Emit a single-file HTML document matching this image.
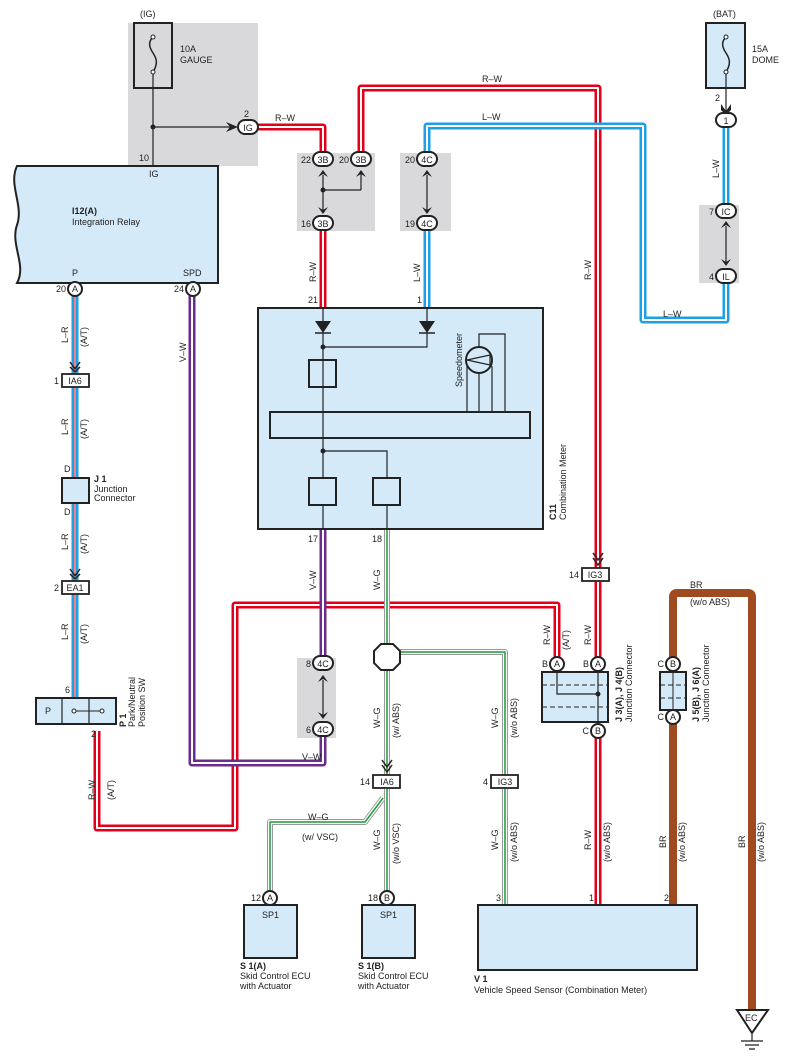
<!DOCTYPE html>
<html><head><meta charset="utf-8"><style>
html,body{margin:0;padding:0;background:#fff;}
svg{display:block;font-family:"Liberation Sans",sans-serif;}
text{font-size:9px;fill:#222;}
.b{font-weight:bold;}
</style></head><body>
<svg width="788" height="1063" viewBox="0 0 788 1063" xmlns="http://www.w3.org/2000/svg">
<defs>
<path id="r1" d="M258,127 H323 V152"/>
<path id="r1b" d="M323,230 V308"/>
<path id="r2" d="M361,152 V88 H598 V568"/>
<path id="r3" d="M598,582 V657 M598,738 V905"/>
<path id="r4" d="M97,731 V828 H235 V605 H557 V657"/>
<path id="bl1" d="M427,152 V126 H643 V320 H726 V283"/>
<path id="bl2" d="M427,230 V308"/>
<path id="bl3" d="M726,127 V205"/>
<path id="lr" d="M75,296 V374 M75,387 V478 M75,503 V581 M75,594 V698"/>
<path id="pu" d="M323,529 V656 M323,736 V763 H192 V296"/>
<path id="gr" d="M387,529 V644 M387,670 V775 M387,789 V891 M383,798 L365,822 H270 V891 M400,652 H505 V775 M505,789 V905"/>
</defs>
<!-- gray boxes -->
<rect x="128" y="23" width="130" height="143" fill="#d9d9db"/>
<rect x="297" y="153" width="78" height="78" fill="#d9d9db"/>
<rect x="400" y="153" width="51" height="78" fill="#d9d9db"/>
<rect x="699" y="205" width="40" height="78" fill="#d9d9db"/>
<rect x="297" y="658" width="39" height="80" fill="#d9d9db"/>

<!-- fuses -->
<rect x="134" y="23" width="38" height="65" fill="none" stroke="#222" stroke-width="2"/>
<path d="M153,37 C148,42 149,47 153,53 C157,59 158,64 153,72" fill="none" stroke="#222" stroke-width="1.5"/>
<circle cx="153" cy="37" r="2" fill="#fff" stroke="#222"/><circle cx="153" cy="72" r="2" fill="#fff" stroke="#222"/>
<text x="140" y="17">(IG)</text><text x="180" y="52">10A</text><text x="180" y="63">GAUGE</text>
<line x1="153" y1="74" x2="153" y2="166" stroke="#222" stroke-width="1.2"/>
<line x1="153" y1="127" x2="232" y2="127" stroke="#222" stroke-width="1.2"/>
<circle cx="153" cy="127" r="2.5" fill="#222"/>
<path d="M226,122 L238,127 L226,132 L230,127Z" fill="#222"/>
<text x="244" y="117">2</text><text x="139" y="161">10</text>

<rect x="706" y="23" width="39" height="65" fill="#d4eaf8" stroke="#222" stroke-width="2"/>
<path d="M726,37 C721,42 722,47 726,53 C730,59 731,64 726,72" fill="none" stroke="#222" stroke-width="1.5"/>
<circle cx="726" cy="37" r="2" fill="#fff" stroke="#222"/><circle cx="726" cy="72" r="2" fill="#fff" stroke="#222"/>
<text x="713" y="17">(BAT)</text><text x="752" y="52">15A</text><text x="752" y="63">DOME</text>
<line x1="726" y1="74" x2="726" y2="112" stroke="#222" stroke-width="1.2"/>
<path d="M721,104 L726,111 L731,104 L731,110 L726,115 L721,110Z" fill="#222"/>
<text x="715" y="101">2</text>

<!-- wires -->
<g fill="none" stroke-linejoin="round">
<g stroke="#e3001b" stroke-width="7"><use href="#r1"/><use href="#r1b"/><use href="#r2"/><use href="#r3"/><use href="#r4"/></g>
<g stroke="#fff" stroke-width="2"><use href="#r1"/><use href="#r1b"/><use href="#r2"/><use href="#r3"/><use href="#r4"/></g>
<g stroke="#1ea0e6" stroke-width="7"><use href="#bl1"/><use href="#bl2"/><use href="#bl3"/><use href="#lr"/></g>
<g stroke="#fff" stroke-width="2"><use href="#bl1"/><use href="#bl2"/><use href="#bl3"/><use href="#lr"/></g>
<g stroke="#e3001b" stroke-width="1"><use href="#lr"/></g>
<g stroke="#6a2c8e" stroke-width="7"><use href="#pu"/></g>
<g stroke="#fff" stroke-width="2"><use href="#pu"/></g>
<g stroke="#999" stroke-width="6"><use href="#gr"/></g>
<g stroke="#fff" stroke-width="4"><use href="#gr"/></g>
<g stroke="#1a9a3a" stroke-width="1.5"><use href="#gr"/></g>
<path d="M673,724 V905 M673,657 V597 Q673,593 677,593 H748 Q752,593 752,597 V1010" stroke="#a04a20" stroke-width="8"/>
</g>

<!-- Integration relay -->
<path d="M17,166 H218 V283 H17 C27,265 10,245 17,225 C24,205 8,185 17,166Z" fill="#d4eaf8" stroke="#222" stroke-width="2"/>
<text x="72" y="214" class="b">I12(A)</text><text x="72" y="225">Integration Relay</text>
<text x="149" y="177">IG</text><text x="72" y="276">P</text><text x="183" y="276">SPD</text>

<!-- connectors ovals -->
<g fill="#fff" stroke="#222" stroke-width="2">
<rect x="238" y="120" width="20" height="14" rx="7"/>
<rect x="313" y="152" width="20" height="14" rx="7"/><rect x="351" y="152" width="20" height="14" rx="7"/>
<rect x="313" y="216" width="20" height="14" rx="7"/>
<rect x="417" y="152" width="20" height="14" rx="7"/><rect x="417" y="216" width="20" height="14" rx="7"/>
<rect x="716" y="113" width="20" height="14" rx="7"/>
<rect x="716" y="204" width="20" height="14" rx="7"/><rect x="716" y="269" width="20" height="14" rx="7"/>
<rect x="313" y="656" width="20" height="14" rx="7"/><rect x="313" y="722" width="20" height="14" rx="7"/>
<circle cx="75" cy="289" r="7"/><circle cx="193" cy="289" r="7"/>
<circle cx="557" cy="664" r="7"/><circle cx="598" cy="664" r="7"/><circle cx="598" cy="731" r="7"/>
<circle cx="673" cy="664" r="7"/><circle cx="673" cy="717" r="7"/>
<circle cx="270" cy="898" r="7"/><circle cx="387" cy="898" r="7"/>
<rect x="62" y="374" width="27" height="13" stroke-width="1.8"/><rect x="62" y="581" width="27" height="13" stroke-width="1.8"/>
<rect x="582" y="568" width="27" height="13" stroke-width="1.8"/>
<rect x="373" y="775" width="27" height="13" stroke-width="1.8"/><rect x="491" y="775" width="27" height="13" stroke-width="1.8"/>
<polygon points="381,644 393,644 400,651 400,663 393,670 381,670 374,663 374,651"/>
</g>
<g font-size="9" text-anchor="middle">
<text x="248" y="131">IG</text><text x="323" y="163">3B</text><text x="361" y="163">3B</text><text x="323" y="227">3B</text>
<text x="427" y="163">4C</text><text x="427" y="227">4C</text><text x="726" y="124">1</text><text x="726" y="215">IC</text><text x="726" y="280">IL</text>
<text x="323" y="667">4C</text><text x="323" y="733">4C</text>
<text x="75" y="292">A</text><text x="193" y="292">A</text><text x="557" y="667">A</text><text x="598" y="667">A</text><text x="598" y="734">B</text>
<text x="673" y="667">B</text><text x="673" y="720">A</text><text x="270" y="901">A</text><text x="387" y="901">B</text>
<text x="75" y="384">IA6</text><text x="75" y="591">EA1</text><text x="595" y="578">IG3</text><text x="387" y="785">IA6</text><text x="505" y="785">IG3</text>
</g>
<g font-size="9" text-anchor="end">
<text x="311" y="163">22</text><text x="349" y="163">20</text><text x="311" y="227">16</text><text x="415" y="163">20</text><text x="415" y="227">19</text>
<text x="714" y="215">7</text><text x="714" y="280">4</text><text x="66" y="292">20</text><text x="184" y="292">24</text>
<text x="59" y="384">1</text><text x="59" y="591">2</text><text x="579" y="578">14</text><text x="370" y="785">14</text><text x="488" y="785">4</text>
<text x="311" y="667">8</text><text x="311" y="733">6</text>
<text x="548" y="667">B</text><text x="589" y="667">B</text><text x="589" y="734">C</text><text x="664" y="667">C</text><text x="664" y="720">C</text>
<text x="261" y="901">12</text><text x="378" y="901">18</text>
<text x="318" y="303">21</text><text x="422" y="303">1</text><text x="318" y="542">17</text><text x="382" y="542">18</text>
<text x="501" y="901">3</text><text x="594" y="901">1</text><text x="669" y="901">2</text>
</g>
<!-- chevrons -->
<g fill="#222">
<path d="M318,177 L323,170 L328,177 L323,174Z M318,207 L323,214 L328,207 L323,210Z M356,177 L361,170 L366,177 L361,174Z"/>
<path d="M422,177 L427,170 L432,177 L427,174Z M422,207 L427,214 L432,207 L427,210Z"/>
<path d="M721,228 L726,221 L731,228 L726,225Z M721,259 L726,266 L731,259 L726,262Z"/>
<path d="M318,682 L323,675 L328,682 L323,679Z M318,712 L323,719 L328,712 L323,715Z"/>
<path d="M593,553 L598,560 L603,553 M593,558 L598,565 L603,558" fill="none" stroke="#222" stroke-width="1.5"/>
<path d="M382,760 L387,767 L392,760 M382,765 L387,772 L392,765" fill="none" stroke="#222" stroke-width="1.5"/>
<path d="M70,362 L75,369 L80,362 M70,367 L75,372 L80,367 M70,569 L75,576 L80,569 M70,574 L75,579 L80,574" fill="none" stroke="#222" stroke-width="1.5"/>
</g>
<g stroke="#222" stroke-width="1.2">
<line x1="323" y1="175" x2="323" y2="210"/><line x1="323" y1="190" x2="361" y2="190"/><line x1="361" y1="190" x2="361" y2="174"/>
<line x1="427" y1="175" x2="427" y2="210"/><line x1="726" y1="226" x2="726" y2="262"/><line x1="323" y1="680" x2="323" y2="715"/>
</g>
<circle cx="323" cy="190" r="2.5" fill="#222"/>

<!-- Combination meter -->
<rect x="258" y="308" width="285" height="221" fill="#d4eaf8" stroke="#222" stroke-width="2"/>
<g stroke="#222" stroke-width="1.2" fill="none">
<path d="M323,308 V478 M323,505 V529 M427,308 V347 H323 M323,451 H387 V478 M387,505 V529"/>
<rect x="309" y="360" width="27" height="27" stroke-width="2"/>
<rect x="270" y="412" width="260" height="26" stroke-width="2"/>
<rect x="309" y="478" width="27" height="27" stroke-width="2"/><rect x="373" y="478" width="27" height="27" stroke-width="2"/>
<circle cx="479" cy="360" r="13" stroke-width="2"/>
<path d="M467,360 L490,355 L490,365Z"/>
<path d="M479,347 V334 H505 V412 M467,366 V412 M479,373 V412 M492,366 V412"/>
</g>
<path d="M315,321 H331 L323,333Z M419,321 H435 L427,333Z" fill="#222"/>
<path d="M315,333 H331 M419,333 H435" stroke="#222" stroke-width="1.5"/>
<circle cx="323" cy="347" r="2.5" fill="#222"/><circle cx="323" cy="451" r="2.5" fill="#222"/>
<text transform="translate(462,387) rotate(-90)">Speedometer</text>
<text transform="translate(556,520) rotate(-90)" class="b">C11</text>
<text transform="translate(566,520) rotate(-90)">Combination Meter</text>

<!-- J1 -->
<rect x="62" y="478" width="27" height="25" fill="#d4eaf8" stroke="#222" stroke-width="2"/>
<text x="64" y="472">D</text><text x="64" y="515">D</text>
<text x="94" y="482" class="b">J 1</text><text x="94" y="492">Junction</text><text x="94" y="501">Connector</text>

<!-- P1 -->
<rect x="36" y="698" width="80" height="26" fill="#d4eaf8" stroke="#222" stroke-width="2"/>
<path d="M62,698 V724 M89,698 V724" stroke="#222" stroke-width="1.2"/>
<text x="45" y="714">P</text>
<path d="M74,711 H102" stroke="#222"/><circle cx="74" cy="711" r="2" fill="#fff" stroke="#222"/><circle cx="102" cy="711" r="2" fill="#fff" stroke="#222"/>
<text x="65" y="693">6</text><text x="91" y="737">2</text>
<text transform="translate(126,727) rotate(-90)" class="b">P 1</text>
<text transform="translate(135,727) rotate(-90)">Park/Neutral</text>
<text transform="translate(145,727) rotate(-90)">Position SW</text>

<!-- J3/J4 -->
<rect x="542" y="672" width="66" height="50" fill="#d4eaf8" stroke="#222" stroke-width="2"/>
<path d="M542,685 H608 M542,707 H608" stroke="#222" stroke-dasharray="5,3"/>
<path d="M557,671 V694 H598 M598,671 V723" stroke="#222" stroke-width="1.2" fill="none"/>
<circle cx="598" cy="694" r="2.5" fill="#222"/>
<text transform="translate(622,722) rotate(-90)" class="b">J 3(A), J 4(B)</text>
<text transform="translate(632,722) rotate(-90)">Junction Connector</text>
<!-- J5/J6 -->
<rect x="660" y="672" width="26" height="38" fill="#d4eaf8" stroke="#222" stroke-width="2"/>
<path d="M660,685 H686 M660,698 H686" stroke="#222" stroke-dasharray="5,3"/>
<line x1="673" y1="671" x2="673" y2="710" stroke="#222"/>
<text transform="translate(699,722) rotate(-90)" class="b">J 5(B), J 6(A)</text>
<text transform="translate(709,722) rotate(-90)">Junction Connector</text>

<!-- bottom boxes -->
<rect x="244" y="905" width="53" height="53" fill="#d4eaf8" stroke="#222" stroke-width="2"/>
<rect x="362" y="905" width="53" height="53" fill="#d4eaf8" stroke="#222" stroke-width="2"/>
<rect x="478" y="905" width="219" height="65" fill="#d4eaf8" stroke="#222" stroke-width="2"/>
<text x="262" y="918">SP1</text><text x="380" y="918">SP1</text>
<text x="240" y="969" class="b">S 1(A)</text><text x="240" y="979">Skid Control ECU</text><text x="240" y="989">with Actuator</text>
<text x="358" y="969" class="b">S 1(B)</text><text x="358" y="979">Skid Control ECU</text><text x="358" y="989">with Actuator</text>
<text x="474" y="982" class="b">V 1</text><text x="474" y="993">Vehicle Speed Sensor (Combination Meter)</text>
<!-- ground -->
<path d="M737,1010 H768 L752,1033Z" fill="#fff" stroke="#222" stroke-width="2"/>
<text x="745" y="1021">EC</text>
<path d="M752,1033 V1041 M741,1041 H763 M745,1045 H759 M749,1049 H755" stroke="#222" stroke-width="1.2"/>

<!-- wire labels -->
<text x="275" y="121">R–W</text><text x="482" y="82">R–W</text><text x="482" y="120">L–W</text><text x="663" y="317">L–W</text>
<text x="690" y="588">BR</text><text x="690" y="605">(w/o ABS)</text>
<text x="302" y="760">V–W</text><text x="308" y="820">W–G</text><text x="302" y="840">(w/ VSC)</text>
<g>
<text transform="translate(316,282) rotate(-90)">R–W</text>
<text transform="translate(420,282) rotate(-90)">L–W</text>
<text transform="translate(719,178) rotate(-90)">L–W</text>
<text transform="translate(591,280) rotate(-90)">R–W</text>
<text transform="translate(68,343) rotate(-90)">L–R</text><text transform="translate(87,347) rotate(-90)">(A/T)</text>
<text transform="translate(68,435) rotate(-90)">L–R</text><text transform="translate(87,439) rotate(-90)">(A/T)</text>
<text transform="translate(68,550) rotate(-90)">L–R</text><text transform="translate(87,554) rotate(-90)">(A/T)</text>
<text transform="translate(68,640) rotate(-90)">L–R</text><text transform="translate(87,644) rotate(-90)">(A/T)</text>
<text transform="translate(95,800) rotate(-90)">R–W</text><text transform="translate(114,800) rotate(-90)">(A/T)</text>
<text transform="translate(186,362) rotate(-90)">V–W</text>
<text transform="translate(316,590) rotate(-90)">V–W</text>
<text transform="translate(380,590) rotate(-90)">W–G</text>
<text transform="translate(550,645) rotate(-90)">R–W</text><text transform="translate(569,650) rotate(-90)">(A/T)</text>
<text transform="translate(591,645) rotate(-90)">R–W</text>
<text transform="translate(380,728) rotate(-90)">W–G</text><text transform="translate(399,738) rotate(-90)">(w/ ABS)</text>
<text transform="translate(498,728) rotate(-90)">W–G</text><text transform="translate(517,738) rotate(-90)">(w/o ABS)</text>
<text transform="translate(380,850) rotate(-90)">W–G</text><text transform="translate(399,864) rotate(-90)">(w/o VSC)</text>
<text transform="translate(498,850) rotate(-90)">W–G</text><text transform="translate(517,862) rotate(-90)">(w/o ABS)</text>
<text transform="translate(591,850) rotate(-90)">R–W</text><text transform="translate(610,862) rotate(-90)">(w/o ABS)</text>
<text transform="translate(666,848) rotate(-90)">BR</text><text transform="translate(685,862) rotate(-90)">(w/o ABS)</text>
<text transform="translate(745,848) rotate(-90)">BR</text><text transform="translate(764,862) rotate(-90)">(w/o ABS)</text>
</g>
</svg>
</body></html>
